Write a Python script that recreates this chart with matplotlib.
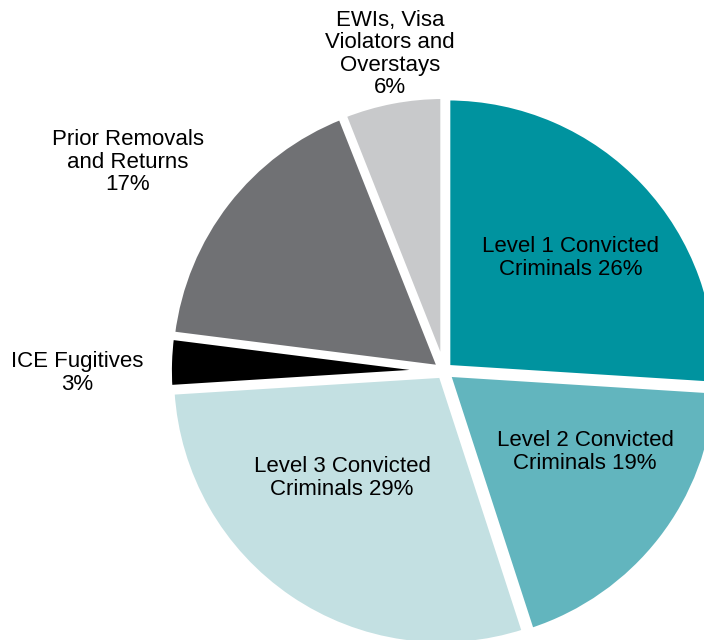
import matplotlib
matplotlib.use("Agg")
import matplotlib.pyplot as plt

plt.rcParams["font.family"] = ["Liberation Sans", "DejaVu Sans"]

# data
categories = ["Level 1 Convicted\nCriminals", "Level 2 Convicted\nCriminals",
              "Level 3 Convicted\nCriminals", "ICE Fugitives",
              "Prior Removals\nand Returns", "EWIs, Visa\nViolators and\nOverstays"]
shares = [26, 19, 29, 3, 17, 6]
colors = ["#00939f", "#62b5be", "#c3e0e2", "#000000", "#707174", "#c8c9cb"]

# label layout in pixels from the top-left of the image
label_px = [(571, 258), (585, 452), (342, 478), (77, 373), (128, 162), (390, 54)]
inside = [True, True, True, False, False, False]

W, H = 704, 640
CX, CY, R = 444, 371, 270  # pixel centre and radius of pie

fig = plt.figure(figsize=(W / 100, H / 100), dpi=100)
ax = fig.add_axes([0, 0, 1, 1])
ax.pie(shares, colors=colors, startangle=90, counterclock=False,
       explode=[0.018] * len(shares),
       wedgeprops=dict(edgecolor="white", linewidth=4))
ax.set_aspect("auto")
ax.set_xlim(-CX / R, (W - CX) / R)
ax.set_ylim(-(H - CY) / R, CY / R)
ax.axis("off")

for cat, s, (px, py), ins in zip(categories, shares, label_px, inside):
    txt = f"{cat} {s}%" if ins else f"{cat}\n{s}%"
    ax.text((px - CX) / R, (CY - py) / R, txt, ha="center", va="center",
            fontsize=16, linespacing=1.08, color="black")

fig.savefig("out.png", dpi=100)
